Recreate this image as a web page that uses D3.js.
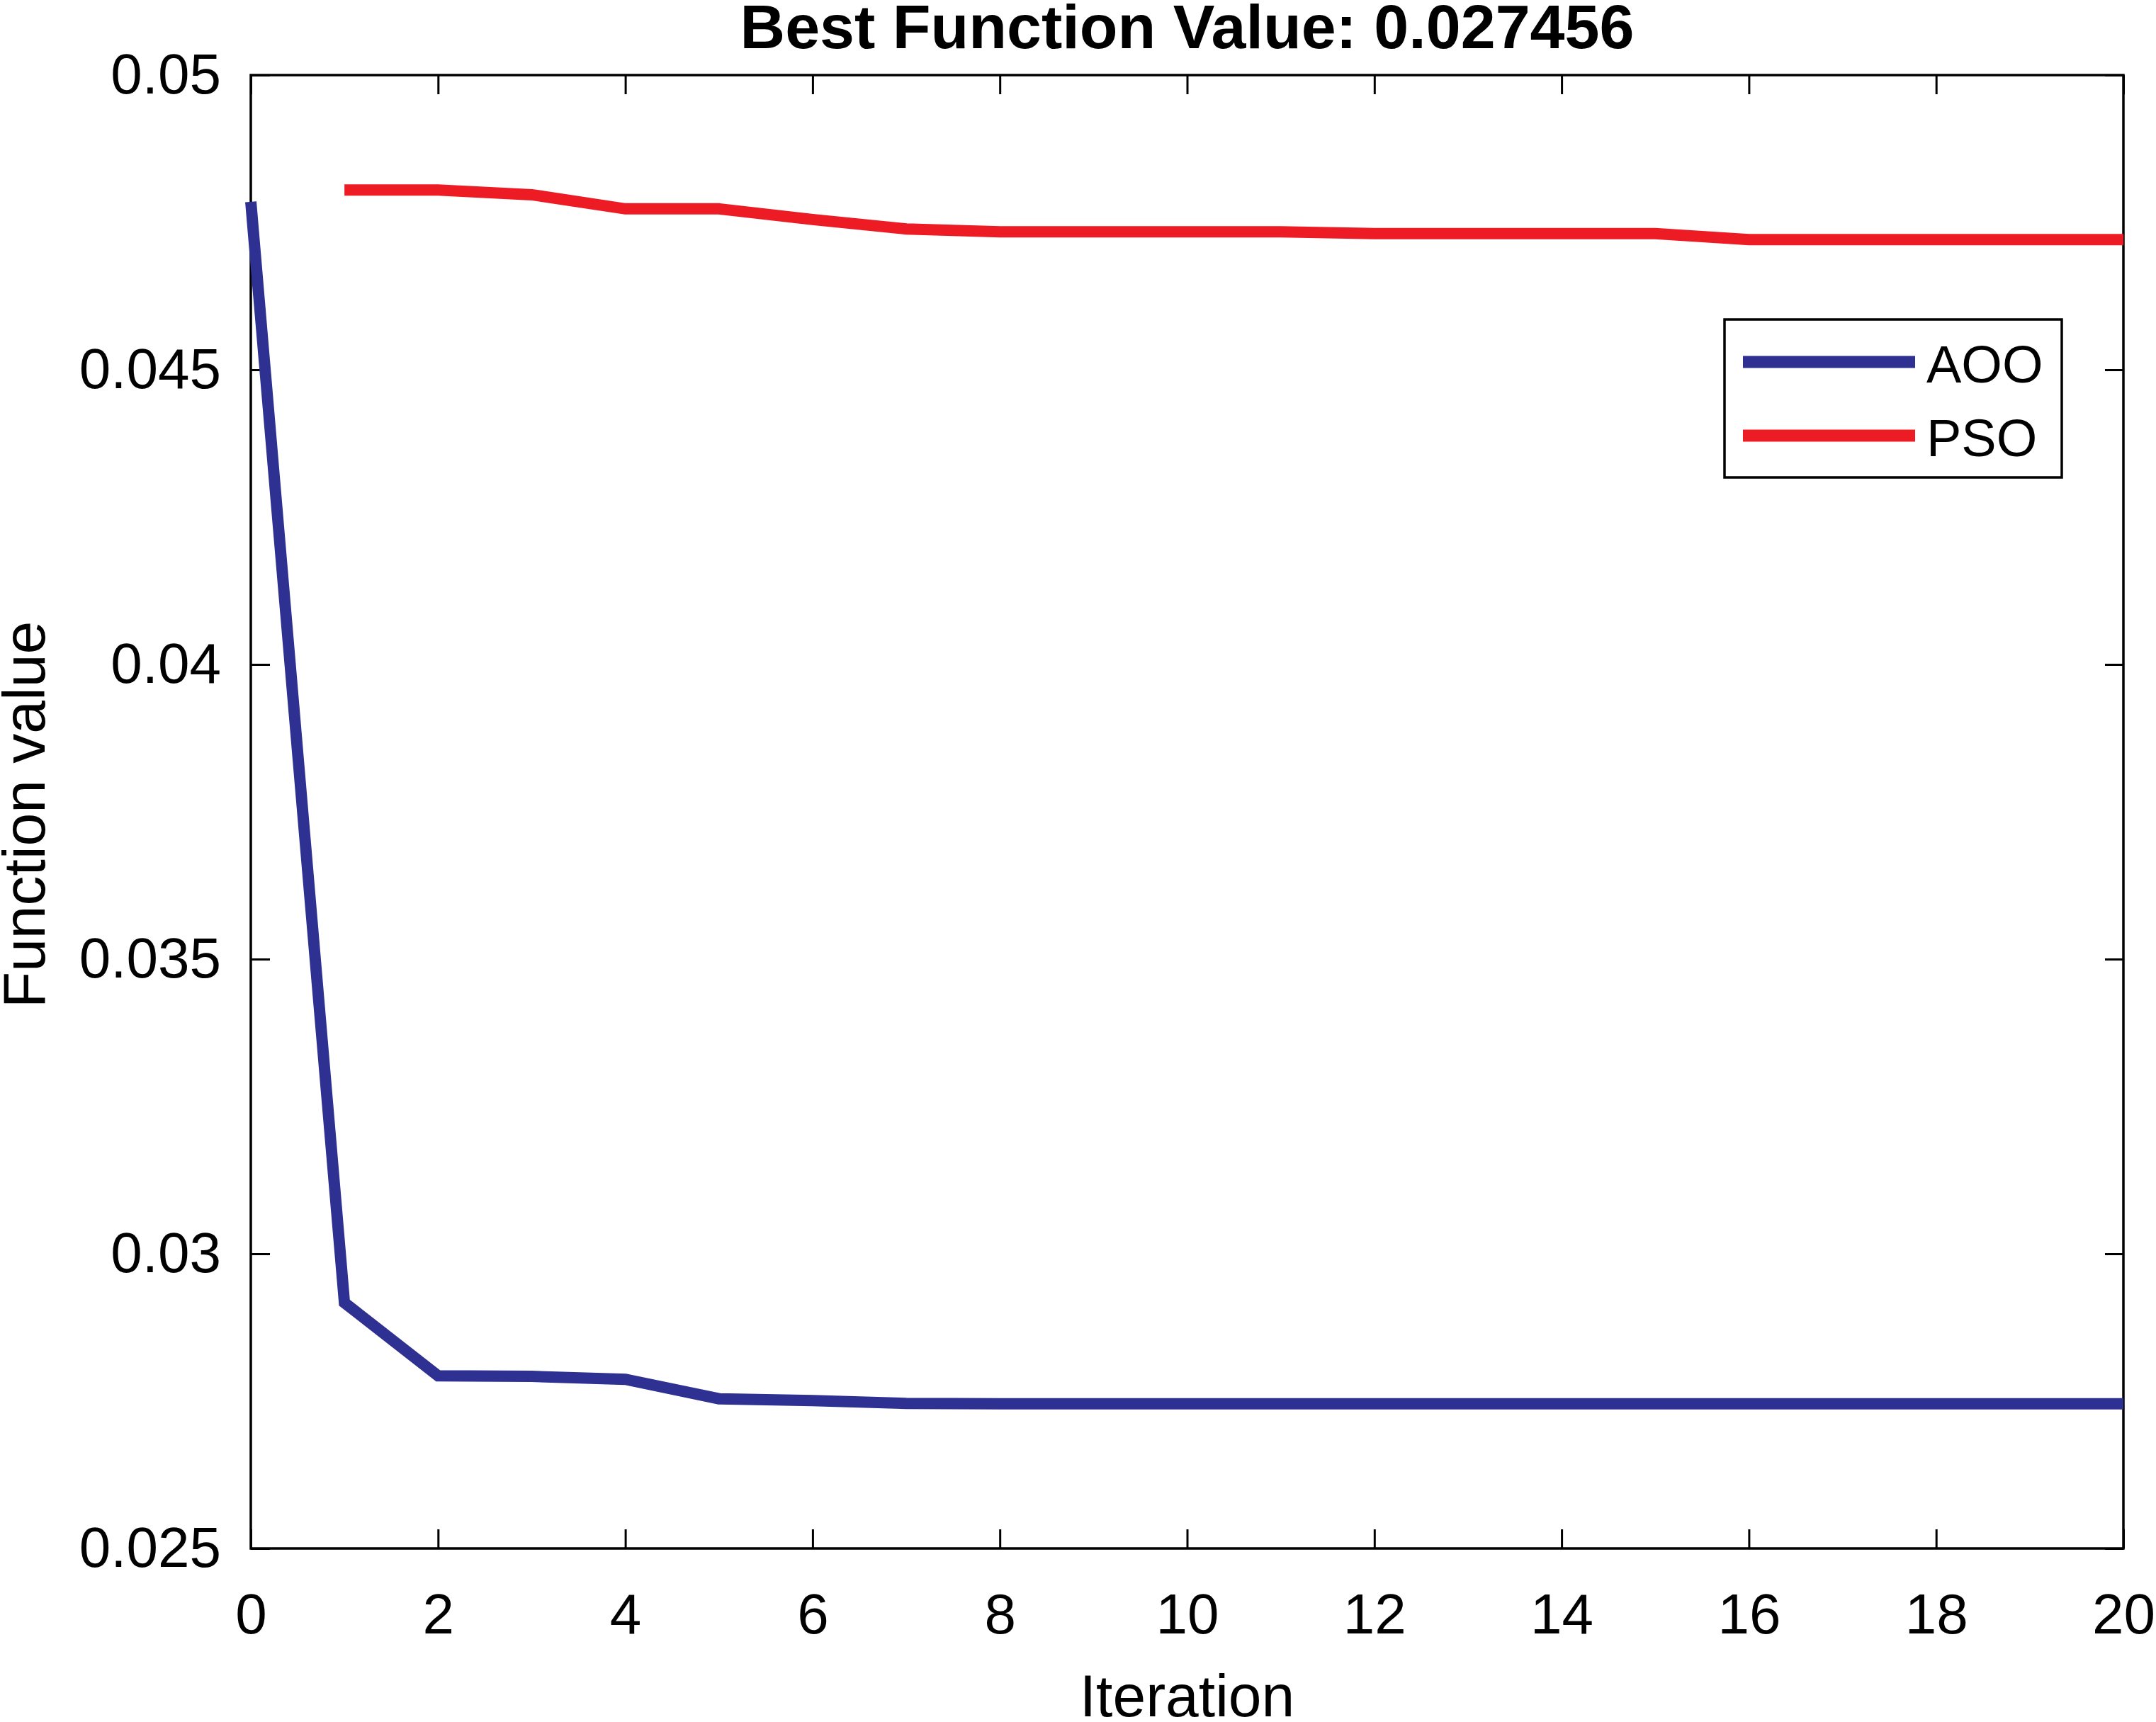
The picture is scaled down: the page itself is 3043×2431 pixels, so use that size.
<!DOCTYPE html>
<html>
<head>
<meta charset="utf-8">
<script src="https://cdn.jsdelivr.net/npm/d3@7"></script>
<style>
  body { margin: 0; background: #fff; }
  text { font-family: "Liberation Sans", Arial, sans-serif; fill: #000; }
</style>
</head>
<body>
<svg></svg>
<script>
var svgWidth = 3043;
var svgHeight = 2431;

// values
var iterAOO = [0, 1, 2, 3, 4, 5, 6, 7, 8, 9, 10, 11, 12, 13, 14, 15, 16, 17, 18, 19, 20];
var valAOO = [0.04785, 0.02917, 0.02793, 0.02792, 0.02787, 0.02754, 0.02751, 0.027462,
              0.027456, 0.027456, 0.027456, 0.027456, 0.027456, 0.027456, 0.027456,
              0.027456, 0.027456, 0.027456, 0.027456, 0.027456, 0.027456];
var iterPSO = [1, 2, 3, 4, 5, 6, 7, 8, 9, 10, 11, 12, 13, 14, 15, 16, 17, 18, 19, 20];
var valPSO = [0.04805, 0.04805, 0.04797, 0.04773, 0.04773, 0.04755, 0.04739, 0.04734,
              0.04734, 0.04734, 0.04734, 0.04731, 0.04731, 0.04731, 0.04731, 0.04721,
              0.04721, 0.04721, 0.04721, 0.04721];
var xTicks = [0, 2, 4, 6, 8, 10, 12, 14, 16, 18, 20];
var yTicks = [0.025, 0.03, 0.035, 0.04, 0.045, 0.05];
var yTickLabels = ["0.025", "0.03", "0.035", "0.04", "0.045", "0.05"];
var seriesNames = ["AOO", "PSO"];
var seriesColors = ["#2E3192", "#ED1C24"];
var titleText = "Best Function Value: 0.027456";

// plot box (window.top is reserved, so no plain "top")
var plotLeft = 354, plotRight = 2997, plotTop = 106, plotBottom = 2186;

var svg = d3.select("svg")
    .attr("width", svgWidth)
    .attr("height", svgHeight);

var x = d3.scaleLinear().domain([0, 20]).range([plotLeft, plotRight]);
var y = d3.scaleLinear().domain([0.025, 0.05]).range([plotBottom, plotTop]);

// axes, ticks pointing inward like matlab
var xAxis = d3.axisBottom(x).tickValues(xTicks).tickFormat(d3.format("d"))
    .tickSizeInner(-27).tickSizeOuter(0).tickPadding(63);
var yAxis = d3.axisLeft(y).tickValues(yTicks)
    .tickFormat(function (d, i) { return yTickLabels[i]; })
    .tickSizeInner(-27).tickSizeOuter(0).tickPadding(42);
var xTop = d3.axisTop(x).tickValues(xTicks).tickFormat("").tickSizeInner(-27).tickSizeOuter(0);
var yRight = d3.axisRight(y).tickValues(yTicks).tickFormat("").tickSizeInner(-26).tickSizeOuter(0);

function styleAxis(g) {
    g.selectAll("path").remove();
    g.selectAll("line").attr("stroke", "#000").attr("stroke-width", 3);
    g.selectAll("text").style("font-size", "80px").attr("fill", "#000");
}

svg.append("g").attr("transform", "translate(0," + plotBottom + ")").call(xAxis).call(styleAxis);
svg.append("g").attr("transform", "translate(" + plotLeft + ",0)").call(yAxis).call(styleAxis);
svg.append("g").attr("transform", "translate(0," + plotTop + ")").call(xTop).call(styleAxis);
svg.append("g").attr("transform", "translate(" + plotRight + ",0)").call(yRight).call(styleAxis);

svg.append("rect")
    .attr("x", plotLeft).attr("y", plotTop)
    .attr("width", plotRight - plotLeft).attr("height", plotBottom - plotTop)
    .attr("fill", "none").attr("stroke", "#000").attr("stroke-width", 3.5);

var line = d3.line()
    .x(function (d) { return x(d[0]); })
    .y(function (d) { return y(d[1]); });

var series = [
    d3.zip(iterAOO, valAOO),
    d3.zip(iterPSO, valPSO)
];

svg.selectAll(".series")
    .data(series)
    .enter()
    .append("path")
    .attr("class", "series")
    .attr("d", line)
    .attr("fill", "none")
    .attr("stroke", function (d, i) { return seriesColors[i]; })
    .attr("stroke-width", 16);

// title and axis labels
svg.append("text")
    .attr("x", (plotLeft + plotRight) / 2).attr("y", 68)
    .attr("text-anchor", "middle")
    .style("font-size", "88px").style("font-weight", "bold")
    .text(titleText);

svg.append("text")
    .attr("x", (plotLeft + plotRight) / 2).attr("y", 2423)
    .attr("text-anchor", "middle")
    .style("font-size", "84px")
    .text("Iteration");

svg.append("text")
    .attr("transform", "translate(63," + 1150 + ") rotate(-90)")
    .attr("text-anchor", "middle")
    .style("font-size", "84px")
    .text("Function value");

// legend
var legend = svg.append("g");
legend.append("rect")
    .attr("x", 2434).attr("y", 451).attr("width", 476).attr("height", 223)
    .attr("fill", "#fff").attr("stroke", "#000").attr("stroke-width", 3.5);

var items = legend.selectAll(".item")
    .data(seriesNames)
    .enter()
    .append("g")
    .attr("class", "item")
    .attr("transform", function (d, i) { return "translate(0," + (511 + i * 104) + ")"; });

items.append("line")
    .attr("x1", 2460).attr("x2", 2703)
    .attr("stroke", function (d, i) { return seriesColors[i]; })
    .attr("stroke-width", 17);

items.append("text")
    .attr("x", 2719).attr("y", 29)
    .style("font-size", "74px")
    .text(function (d) { return d; });
</script>
</body>
</html>
